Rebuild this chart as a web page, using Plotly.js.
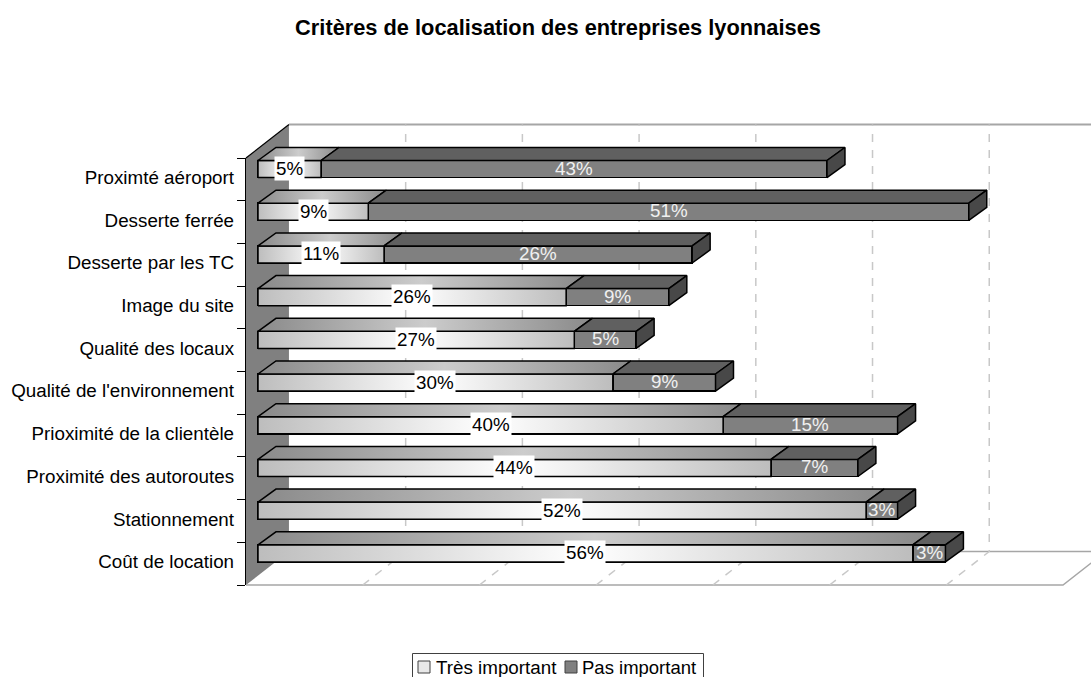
<!DOCTYPE html>
<html><head><meta charset="utf-8">
<script src="https://cdn.plot.ly/plotly-3.0.1.min.js"></script>
<style>html,body{margin:0;padding:0;background:#fff;overflow:hidden}</style>
</head><body><div id="chart" style="width:1091px;height:677px"></div>
<script>
const titleText = "Critères de localisation des entreprises lyonnaises";
const categories = ["Proximté aéroport","Desserte ferrée","Desserte par les TC","Image du site","Qualité des locaux","Qualité de l'environnement","Prioximité de la clientèle","Proximité des autoroutes","Stationnement","Coût de location"];
const tresImportant = [5.4,9.45,10.8,26.4,27.1,30.4,39.85,43.95,52.1,56.1];
const pasImportant  = [43.35,51.45,26.4,8.8,5.3,8.8,14.95,7.45,2.7,2.8];
const tresLabels = ["5%","9%","11%","26%","27%","30%","40%","44%","52%","56%"];
const pasLabels  = ["43%","51%","26%","9%","5%","9%","15%","7%","3%","3%"];
const seriesNames = ["Très important","Pas important"];
const gridTicks = [10,20,30,40,50,60];

const W=1091,H=677,FONT='"Liberation Sans",Arial,sans-serif';
const AX_MAX=70, n=categories.length, pos=categories.map((c,i)=>i);
const BAR_W=0.4, D_X=1.54, D_Y=0.305, WALL_X=3.68, WALL_Y=0.785, FS=18.8;
const PPX=817/AX_MAX, PPY=42.7;
const xRangeFrom=x0=>[(0-x0)/PPX,(W-x0)/PPX];
const yRangeFrom=y0=>[(H-y0)/PPY-0.5,(0-y0)/PPY-0.5];
const lineK={color:'#000',width:1.5};
const base={mode:'lines',hoverinfo:'skip',showlegend:false,cliponaxis:false};
const traces=[];

// walls and floor (full-page axes sharing the front-plane scale)
traces.push({...base,x:[0,WALL_X,WALL_X,0,0],y:[-0.5,-0.5-WALL_Y,9.5-WALL_Y,9.5,-0.5],fill:'toself',fillcolor:'#808080',line:{width:0}});
traces.push({...base,x:[0,WALL_X],y:[-0.5,-0.5-WALL_Y],line:{color:'#000',width:1.2}});
traces.push({...base,x:[WALL_X,AX_MAX+8],y:[-0.5-WALL_Y,-0.5-WALL_Y],line:{color:'#a6a6a6',width:2}});
traces.push({...base,x:[WALL_X,AX_MAX+WALL_X,AX_MAX,0],y:[9.5-WALL_Y,9.5-WALL_Y,9.5,9.5],line:{color:'#a6a6a6',width:1.5}});
gridTicks.forEach(t=>traces.push({...base,x:[t,t+WALL_X,t+WALL_X],y:[9.5,9.5-WALL_Y,-0.5-WALL_Y],line:{color:'#c8c8c8',width:1.5,dash:'8px,8px'}}));

// front faces
traces.push({type:'bar',orientation:'h',name:seriesNames[0],x:tresImportant,y:pos,width:BAR_W,marker:{color:'#e0e0e0',line:lineK},xaxis:'x2',yaxis:'y2',showlegend:false,hoverinfo:'x+name',cliponaxis:false});
traces.push({type:'bar',orientation:'h',name:seriesNames[1],x:pasImportant,y:pos,width:BAR_W,marker:{color:'#808080',line:lineK},xaxis:'x2',yaxis:'y2',showlegend:false,hoverinfo:'x+name',cliponaxis:false});

const grad=(a,b)=>({type:'horizontal',colorscale:[[0,a],[0.5,b],[1,a]]});
pos.forEach(i=>{
  const a=tresImportant[i], t=a+pasImportant[i], yt=i-BAR_W/2, yb=i+BAR_W/2;
  traces.push({...base,x:[0,a,a,0,0],y:[yb,yb,yt,yt,yb],fill:'toself',fillgradient:grad('#bdbdbd','#ffffff'),line:lineK,xaxis:'x2',yaxis:'y2'});
  traces.push({...base,x:[0,a,a+D_X,D_X,0],y:[yt,yt,yt-D_Y,yt-D_Y,yt],fill:'toself',fillgradient:grad('#8a8a8a','#cccccc'),line:lineK,xaxis:'x2',yaxis:'y2'});
  traces.push({...base,x:[a,t,t+D_X,a+D_X,a],y:[yt,yt,yt-D_Y,yt-D_Y,yt],fill:'toself',fillcolor:'#606060',line:lineK,xaxis:'x2',yaxis:'y2'});
  traces.push({...base,x:[t,t+D_X,t+D_X,t,t],y:[yt,yt-D_Y,yb-D_Y,yb,yt],fill:'toself',fillcolor:'#484848',line:lineK,xaxis:'x2',yaxis:'y2'});
});

// category axis carrier
traces.push({x:[0],y:[0],mode:'none',type:'scatter',xaxis:'x3',yaxis:'y3',hoverinfo:'skip',showlegend:false});

// data labels
const annotations=[];
pos.forEach(i=>{
  const a=tresImportant[i], b=pasImportant[i];
  annotations.push({xref:'x2',yref:'y2',x:a/2,y:i,text:tresLabels[i],showarrow:false,bgcolor:'#ffffff',borderpad:1,yshift:0.5,font:{family:FONT,size:FS,color:'#000'}});
  annotations.push({xref:'x2',yref:'y2',x:a+b/2,y:i,text:pasLabels[i],showarrow:false,borderpad:0,yshift:1,font:{family:FONT,size:FS,color:'#f0f0f0'}});
});

// legend box
const px=v=>v/W, py=v=>1-v/H;
const rect=(x0,y0,x1,y1,fill,lc)=>({type:'rect',xref:'paper',yref:'paper',x0:px(x0),x1:px(x1),y0:py(y0),y1:py(y1),fillcolor:fill,line:{color:lc,width:1},layer:'above'});
const shapes=[rect(412.5,653.5,703.5,680,'#fff','#404040'),rect(418,661,430,673,'#e8e8e8','#404040'),rect(565,661,577,673,'#808080','#404040')];
annotations.push({xref:'paper',yref:'paper',x:px(434),y:py(667),xanchor:'left',yanchor:'middle',text:seriesNames[0],showarrow:false,font:{family:FONT,size:FS,color:'#000'}});
annotations.push({xref:'paper',yref:'paper',x:px(580),y:py(667),xanchor:'left',yanchor:'middle',text:seriesNames[1],showarrow:false,font:{family:FONT,size:FS-0.3,color:'#000'}});

const hidden={visible:false,fixedrange:true,domain:[0,1]};
const layout={
  width:W,height:H,margin:{l:0,r:0,t:0,b:0},paper_bgcolor:'#fff',plot_bgcolor:'rgba(0,0,0,0)',
  barmode:'stack',showlegend:false,
  title:{text:titleText,x:558/W,xanchor:'center',xref:'paper',y:1-27/H,yanchor:'middle',font:{family:FONT,size:21.8,color:'#000',weight:700}},
  xaxis:{...hidden,range:xRangeFrom(246),anchor:'y'},
  yaxis:{...hidden,range:yRangeFrom(158),anchor:'x'},
  xaxis2:{...hidden,range:xRangeFrom(258),anchor:'y2'},
  yaxis2:{...hidden,range:yRangeFrom(147.7),anchor:'x2'},
  xaxis3:{visible:false,fixedrange:true,domain:[246/W,1063/W],range:[0,AX_MAX],anchor:'y3'},
  yaxis3:{domain:[1-585/H,1-158/H],range:[9.5,-0.5],anchor:'x3',fixedrange:true,zeroline:false,showgrid:false,
    showline:true,linecolor:'#000',linewidth:1.2,
    tickmode:'array',tickvals:pos,ticktext:categories,ticks:'outside',ticklen:7,tickcolor:'rgba(0,0,0,0)',ticklabelshift:2,
    minor:{tickmode:'array',tickvals:[-0.5,0.5,1.5,2.5,3.5,4.5,5.5,6.5,7.5,8.5,9.5],ticks:'outside',ticklen:8,tickcolor:'#000',tickwidth:1,showgrid:false},
    tickfont:{family:FONT,size:FS,color:'#000'}},
  annotations,shapes
};
Plotly.newPlot('chart',traces,layout,{displayModeBar:false,staticPlot:true});
</script></body></html>
